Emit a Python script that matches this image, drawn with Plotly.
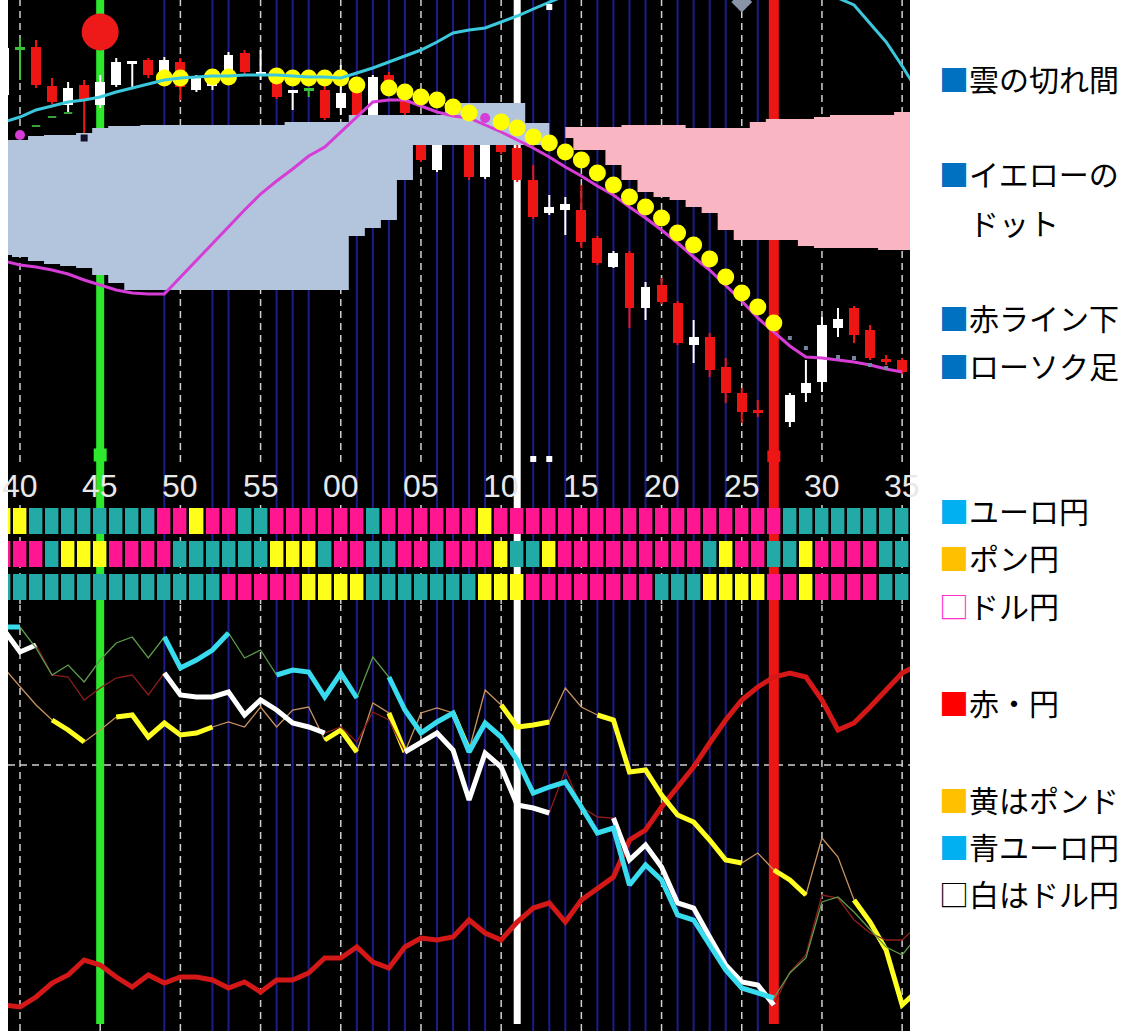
import plotly.graph_objects as go

# ------------------------------------------------------------------ data
# bar index 0 == minute ":40"; one bar per minute, label every 5 bars
tick_pos = list(range(0, 56, 5))
tick_text = ["40", "45", "50", "55", "00", "05", "10", "15", "20", "25", "30", "35"]

# ---- top panel (price scale drawn downward: 0 = top of panel, 462 = bottom)
cndl_x = [-1, 0, 1, 2, 3, 4, 5, 6, 7, 8, 9, 10, 11, 12, 13, 14, 15, 16, 17, 18, 19, 20,
          21, 22, 23, 24, 25, 26, 28, 29, 30, 31, 32, 33, 34, 35, 36, 37, 38, 39, 40,
          41, 42, 43, 44, 45, 46, 48, 49, 50, 51, 52, 53, 54, 55]
cndl_open = [95, 48, 47, 86, 105, 85, 105, 85, 64, 60, 75, 62, 90, 86, 72, 53, 76, 82, 93, 89, 90, 108,
             87, 115, 75, 100, 140, 170, 140, 177, 140, 148, 180, 213, 210, 210, 238, 267, 253, 308, 285,
             303, 345, 337, 367, 393, 410, 422, 393, 382, 328, 308, 330, 359, 360]
cndl_close = [48, 48, 85, 102, 88, 100, 82, 62, 61, 75, 60, 87, 78, 80, 55, 72, 72, 97, 90, 89, 118, 93,
              118, 77, 90, 113, 160, 140, 177, 140, 152, 180, 217, 207, 204, 242, 263, 253, 308, 287, 302,
              343, 337, 370, 393, 412, 413, 395, 383, 325, 319, 335, 358, 362, 372]
cndl_high = [45, 38, 40, 78, 82, 80, 75, 58, 61, 58, 57, 58, 75, 70, 52, 50, 50, 78, 90, 89, 85, 65,
             85, 75, 72, 95, 138, 138, 138, 138, 138, 145, 165, 195, 197, 185, 236, 251, 251, 282, 278,
             301, 320, 333, 358, 388, 400, 393, 360, 317, 308, 306, 325, 355, 358]
cndl_low = [98, 80, 88, 104, 113, 133, 108, 87, 87, 78, 78, 100, 92, 90, 80, 75, 80, 99, 110, 97, 120, 115,
            120, 117, 92, 115, 162, 172, 180, 179, 154, 182, 219, 215, 235, 248, 265, 268, 328, 320, 304,
            345, 363, 377, 403, 423, 417, 427, 402, 392, 337, 343, 360, 365, 374]

# ichimoku cloud (span A / span B)
kumo_blue_x = list(range(-1, 34))
kumo_blue_top = [140, 140, 136, 135, 135, 133, 128, 126, 126,
                 125, 125, 125, 125, 125, 125, 125, 125, 125,
                 122, 122, 122, 122, 115, 115, 115, 115, 115, 115,
                 103, 103, 103, 103, 103, 123, 123]
kumo_blue_bot = [255, 257, 261, 264, 266, 268, 275, 283, 290,
                 290, 290, 290, 290, 290, 290, 290, 290, 290,
                 290, 290, 290, 290, 236, 228, 220, 180, 145, 145,
                 145, 145, 145, 145, 145, 145, 145]
kumo_pink_x = list(range(34, 57))
kumo_pink_top = [127, 127, 127, 127, 125, 125, 125, 125, 128, 128, 128, 128,
                 122, 119, 119, 119, 117, 115, 115, 115, 115, 112, 105]
kumo_pink_bot = [138, 150, 150, 165, 180, 192, 197, 200, 207, 213, 230, 240,
                 240, 240, 240, 246, 248, 248, 248, 248, 250, 250, 250]

# yellow dots
dot_x = [9, 10, 12, 13, 16, 17, 18, 19, 20, 21, 23, 24, 25, 26, 27, 28, 30, 31, 32, 33, 34,
         35, 36, 37, 38, 39, 40, 41, 42, 43, 44, 45, 46, 47]
dot_y = [78, 78, 77, 77, 76, 78, 78, 78, 78, 85, 88, 92, 97, 100, 107, 113, 122, 128, 137, 143, 152,
         160, 173, 185, 197, 207, 218, 233, 245, 259, 277, 293, 307, 323]

# magenta line
mag_x = list(range(-1, 56))
mag_y = [261, 265, 267, 270, 274, 280, 285, 290, 293, 294, 294, 277, 260, 244, 227, 210, 194, 181,
         169, 156, 147, 132, 116, 102, 100, 100, 106, 112, 116, 118, 125, 132, 140, 148, 157, 167,
         176, 186, 195, 207, 218, 230, 243, 257, 270, 285, 301, 318, 332, 346, 357, 358, 360, 362,
         365, 369, 372]

# cyan line
cyan_x = list(range(-1, 57))
cyan_y = [122, 117, 110, 106, 102, 100, 97, 92, 88, 84, 80, 78, 77, 76, 76, 75, 75, 75, 76, 77, 77,
          78, 73, 68, 62, 56, 50, 42, 33, 30, 28, 22, 16, 9, 2, -5, -12, -18, -23, -27, -30, -32,
          -33, -33, -32, -30, -27, -24, -20, -16, -12, -7, -2, 5, 23, 42, 66, 92]

# small signal marks
sig_magenta_x, sig_magenta_y = [0, 29], [135, 118]
sig_green_x, sig_green_y = [1, 2, 3], [126, 117, 113]
sig_gray_x, sig_gray_y = [48, 49, 51, 52, 53, 54], [338, 348, 357, 358, 365, 368]
sig_white_x, sig_white_y = [32, 33, 33], [459, 459, 7]
big_circle_x, big_circle_y = [5], [32]
diamond_x, diamond_y = [45], [2]
green_sq_x, green_sq_y = [5], [455]
red_sq_x, red_sq_y = [47], [457]
dark_dot_x, dark_dot_y = [4], [138]

# vertical markers
green_bar = 5
white_bar = 31
red_bar = 47
navy_bars = [9, 12, 13, 16, 17, 18, 21, 22, 23, 24, 26, 27, 28, 29, 32, 33, 34,
             36, 37, 38, 39, 41, 42, 43, 44, 46]

# ---- currency strength rows (T = teal, P = pink, Y = yellow), bars -1..55
sq_x = list(range(-1, 56))
row_euro = "YY" + "T" * 8 + "PP" + "Y" + "PP" + "TT" + "P" * 6 + "T" + "P" * 6 + "Y" + "P" * 18 + "T" * 8
row_pound = ("PPP" + "T" + "YYY" + "PPPP" + "T" * 6 + "YYY" + "T" + "PP" + "TT" + "PP" + "T" + "PPP"
             + "Y" + "TT" + "Y" + "P" * 9 + "T" + "Y" + "PP" + "TT" + "Y" + "PPPP" + "TT")
row_dollar = ("T" * 14 + "P" * 5 + "Y" * 4 + "T" * 7 + "Y" * 3 + "P" * 8 + "T" * 3 + "Y" * 4
              + "PP" + "Y" + "PPPP" + "TT")

# ---- bottom panel (strength lines, drawn downward; dashed reference at 765)
low_x = list(range(-1, 57))
red_yen = [1005, 1007, 997, 983, 975, 960, 965, 977, 987, 975, 983, 977, 977, 980, 988, 982, 992, 980,
           980, 973, 958, 958, 947, 962, 968, 947, 938, 940, 937, 920, 933, 940, 922, 908, 903, 922,
           900, 888, 877, 840, 830, 807, 787, 767, 743, 720, 700, 687, 677, 673, 677, 700, 730, 723,
           707, 690, 673, 665]
euro_yen = [627, 627, 648, 675, 665, 682, 660, 643, 637, 658, 637, 668, 660, 650, 633, 658, 650, 675,
            670, 672, 697, 673, 698, 657, 677, 710, 733, 722, 713, 752, 723, 737, 760, 793, 787, 782,
            807, 833, 828, 885, 865, 880, 915, 920, 945, 970, 988, 993, 998, 973, 958, 902, 897, 912,
            930, 947, 955, 935]
pound_yen = [668, 687, 705, 720, 730, 742, 730, 717, 715, 737, 723, 735, 733, 727, 722, 727, 707, 727,
             710, 707, 740, 730, 752, 703, 713, 752, 713, 708, 713, 750, 690, 705, 727, 725, 722, 688,
             707, 715, 720, 772, 770, 795, 815, 822, 840, 860, 863, 853, 870, 880, 895, 838, 857, 900,
             922, 950, 1005, 990]
dollar_yen = [630, 652, 645, 675, 677, 700, 688, 678, 675, 695, 673, 695, 697, 697, 692, 715, 700, 710,
              723, 727, 733, 727, 742, 712, 720, 752, 742, 733, 750, 800, 753, 767, 805, 808, 813, 770,
              807, 817, 818, 860, 845, 867, 903, 908, 937, 965, 982, 985, 1005, 972, 955, 895, 898, 920,
              933, 940, 940, 925]
euro_strong = [(-1, 0), (9, 13), (16, 21), (23, 47)]
pound_strong = [(2, 4), (6, 12), (19, 21), (23, 24), (27, 28), (30, 33), (36, 45), (47, 49), (52, 56)]
dollar_strong = [(-1, 1), (9, 19), (24, 33), (37, 47)]

# legend text on the right
legend_items = [
    ("■", "#0070C0", "雲の切れ間", 78),
    ("■", "#0070C0", "イエローの", 173),
    ("■", "rgba(0,0,0,0)", "ドット", 222),
    ("■", "#0070C0", "赤ライン下", 317),
    ("■", "#0070C0", "ローソク足", 365),
    ("■", "#00B0F0", "ユーロ円", 510),
    ("■", "#FFC000", "ポン円", 557),
    ("□", "#FF33CC", "ドル円", 605),
    ("■", "#FF0000", "赤・円", 702),
    ("■", "#FFC000", "黄はポンド", 799),
    ("■", "#00B0F0", "青ユーロ円", 846),
    ("□", "#000000", "白はドル円", 893),
]

# ------------------------------------------------------------------ layout geometry
W, H = 1130, 1035
ML, MR, MT, MB = 8, 220, 0, 4
PW, PH = W - ML - MR, H - MT - MB


def fy(p):
    return 1 - p / PH


def fx(p):
    return (p - ML) / PW


TOP_DOM = [fy(462), 1.0]
MID_DOM = [fy(604), fy(505)]
BOT_DOM = [0.0, fy(605)]
X_RANGE = [-0.748, 55.49]

TEAL, PINK, YEL = "#22aaa6", "#ff1690", "#ffff1a"
RED = "#ee1515"

fig = go.Figure()

# ---- heatmap rows
cmap = {"T": 0, "P": 1, "Y": 2}
fig.add_trace(go.Heatmap(
    x=sq_x, y=[1, 2, 3],
    z=[[cmap[c] for c in row_euro], [cmap[c] for c in row_pound], [cmap[c] for c in row_dollar]],
    zmin=0, zmax=2, showscale=False, xgap=2.6, ygap=7, hoverinfo="skip",
    colorscale=[[0, TEAL], [0.33, TEAL], [0.34, PINK], [0.66, PINK], [0.67, YEL], [1, YEL]],
    xaxis="x2", yaxis="y2"))

# ---- candles
bull_c, bear_c, doji_c = "#ffffff", RED, "#39c339"
body_base, body_h, body_col = [], [], []
wick = {bull_c: ([], []), bear_c: ([], []), doji_c: ([], [])}
for x, o, c, h, l in zip(cndl_x, cndl_open, cndl_close, cndl_high, cndl_low):
    col = bull_c if c < o else (bear_c if c > o else doji_c)
    body_base.append(min(o, c) if o != c else o - 1.5)
    body_h.append(max(abs(o - c), 3))
    body_col.append(col)
    wx, wy = wick[col]
    wx += [x, x, None]
    wy += [h, l, None]
for col, (wx, wy) in wick.items():
    fig.add_trace(go.Scatter(x=wx, y=wy, mode="lines", line=dict(color=col, width=2),
                             hoverinfo="skip", xaxis="x", yaxis="y"))
fig.add_trace(go.Bar(x=cndl_x, y=body_h, base=body_base, width=0.62,
                     marker=dict(color=body_col, line=dict(width=0)),
                     hoverinfo="skip", xaxis="x", yaxis="y"))

# ---- cloud
for xs, top, bot, col in [(kumo_blue_x, kumo_blue_top, kumo_blue_bot, "#b3c5dc"),
                          (kumo_pink_x, kumo_pink_top, kumo_pink_bot, "#f9b6c2")]:
    fig.add_trace(go.Scatter(x=xs, y=bot, mode="lines", line=dict(width=0, shape="hvh"),
                             hoverinfo="skip", xaxis="x", yaxis="y"))
    fig.add_trace(go.Scatter(x=xs, y=top, mode="lines", line=dict(width=0, shape="hvh"),
                             fill="tonexty", fillcolor=col, hoverinfo="skip", xaxis="x", yaxis="y"))

# ---- magenta line, dots, cyan line
fig.add_trace(go.Scatter(x=mag_x, y=mag_y, mode="lines", line=dict(color="#d63cd6", width=3),
                         hoverinfo="skip", xaxis="x", yaxis="y"))
fig.add_trace(go.Scatter(x=dot_x, y=dot_y, mode="markers",
                         marker=dict(color="#ffff00", size=17, line=dict(width=0)),
                         hoverinfo="skip", xaxis="x", yaxis="y"))
fig.add_trace(go.Scatter(x=cyan_x, y=cyan_y, mode="lines", line=dict(color="#3cc8dc", width=3),
                         hoverinfo="skip", xaxis="x", yaxis="y"))

# ---- small marks
marks = [
    (big_circle_x, big_circle_y, dict(color="#ee1a1a", size=37, symbol="circle")),
    (diamond_x, diamond_y, dict(color="#8a94a8", size=16, symbol="diamond")),
    (green_sq_x, green_sq_y, dict(color="#2ee82e", size=13, symbol="square")),
    (red_sq_x, red_sq_y, dict(color=RED, size=13, symbol="square")),
    (sig_white_x, sig_white_y, dict(color="#ffffff", size=6, symbol="square")),
    (sig_magenta_x, sig_magenta_y, dict(color="#d63cd6", size=10, symbol="circle")),
    (dark_dot_x, dark_dot_y, dict(color="#101028", size=7, symbol="square")),
    (sig_gray_x, sig_gray_y, dict(color="#7884a4", size=4, symbol="square")),
]
for mx, my, mk in marks:
    fig.add_trace(go.Scatter(x=mx, y=my, mode="markers", marker=dict(line=dict(width=0), **mk),
                             hoverinfo="skip", xaxis="x", yaxis="y"))
fig.add_trace(go.Scatter(x=sig_green_x, y=sig_green_y, mode="markers",
                         marker=dict(symbol="line-ew", size=6, line=dict(color="#3aa03a", width=2)),
                         hoverinfo="skip", xaxis="x", yaxis="y"))


# ---- bottom lines
def strong_part(xs, ys, spans):
    return [y if any(a <= x <= b for a, b in spans) else None for x, y in zip(xs, ys)]


fig.add_trace(go.Scatter(x=low_x, y=red_yen, mode="lines", line=dict(color="#d41818", width=5),
                         hoverinfo="skip", xaxis="x3", yaxis="y3"))
for ys, thin_col, thick_col, spans in [
        (pound_yen, "#c89260", "#ffff22", pound_strong),
        (dollar_yen, "#8e1c1c", "#ffffff", dollar_strong),
        (euro_yen, "#5e9c4a", "#38dcee", euro_strong)]:
    fig.add_trace(go.Scatter(x=low_x, y=ys, mode="lines", line=dict(color=thin_col, width=1.3),
                             hoverinfo="skip", xaxis="x3", yaxis="y3"))
    fig.add_trace(go.Scatter(x=low_x, y=strong_part(low_x, ys, spans), mode="lines",
                             line=dict(color=thick_col, width=5), connectgaps=False,
                             hoverinfo="skip", xaxis="x3", yaxis="y3"))

# ------------------------------------------------------------------ shapes (behind traces)
shapes = [dict(type="rect", xref="paper", yref="paper", x0=0, x1=1, y0=0, y1=1,
               fillcolor="black", line=dict(width=0), layer="below")]
for b in navy_bars:
    shapes.append(dict(type="line", xref="x", yref="paper", x0=b, x1=b, y0=0, y1=1,
                       line=dict(color="#1c1c8e", width=2), layer="below"))
for t in tick_pos:
    for d0, d1 in (TOP_DOM, MID_DOM, BOT_DOM):
        shapes.append(dict(type="line", xref="x", yref="paper", x0=t, x1=t, y0=d0, y1=d1,
                           line=dict(color="#d0d0d0", width=1.5, dash="7px,5px"), layer="below"))
shapes.append(dict(type="line", xref="paper", yref="y3", x0=0, x1=1, y0=765, y1=765,
                   line=dict(color="#d0d0d0", width=1.5, dash="7px,5px"), layer="below"))
for b, col, w in [(green_bar, "#2ee82e", 8), (white_bar, "#ffffff", 7), (red_bar, RED, 10)]:
    shapes.append(dict(type="line", xref="x", yref="paper", x0=b, x1=b, y0=fy(1024), y1=1,
                       line=dict(color=col, width=w), layer="below"))

# ------------------------------------------------------------------ annotations
annotations = []
for t, txt in zip(tick_pos, tick_text):
    annotations.append(dict(x=t, y=fy(486), xref="x", yref="paper", text=txt, showarrow=False,
                            xanchor="center", yanchor="middle",
                            font=dict(family="Liberation Sans", size=32, color="#e8e8e8")))
for sym, col, txt, ypx in legend_items:
    annotations.append(dict(x=fx(937), y=fy(ypx), xref="paper", yref="paper", showarrow=False,
                            xanchor="left", yanchor="middle",
                            text=f'<span style="color:{col}">{sym}</span>{txt}',
                            font=dict(family="Noto Sans CJK JP", size=30, color="#000000")))

axis_off = dict(showgrid=False, zeroline=False, showticklabels=False, showline=False, ticks="",
                fixedrange=True)
fig.update_layout(
    width=W, height=H, margin=dict(l=ML, r=MR, t=MT, b=MB),
    paper_bgcolor="white", plot_bgcolor="black",
    showlegend=False, barmode="overlay", bargap=0,
    xaxis=dict(domain=[0, 1], anchor="y", range=X_RANGE, **axis_off),
    xaxis2=dict(domain=[0, 1], anchor="y2", matches="x", range=X_RANGE, **axis_off),
    xaxis3=dict(domain=[0, 1], anchor="y3", matches="x", range=X_RANGE, **axis_off),
    yaxis=dict(domain=TOP_DOM, anchor="x", range=[462, 0], **axis_off),
    yaxis2=dict(domain=MID_DOM, anchor="x2", range=[3.5, 0.5], **axis_off),
    yaxis3=dict(domain=BOT_DOM, anchor="x3", range=[PH, 605], **axis_off),
    shapes=shapes, annotations=annotations,
)

fig.write_html("out.html", config={"displayModeBar": False},
               post_script="document.body.style.margin='0';document.body.style.overflow='hidden';")
